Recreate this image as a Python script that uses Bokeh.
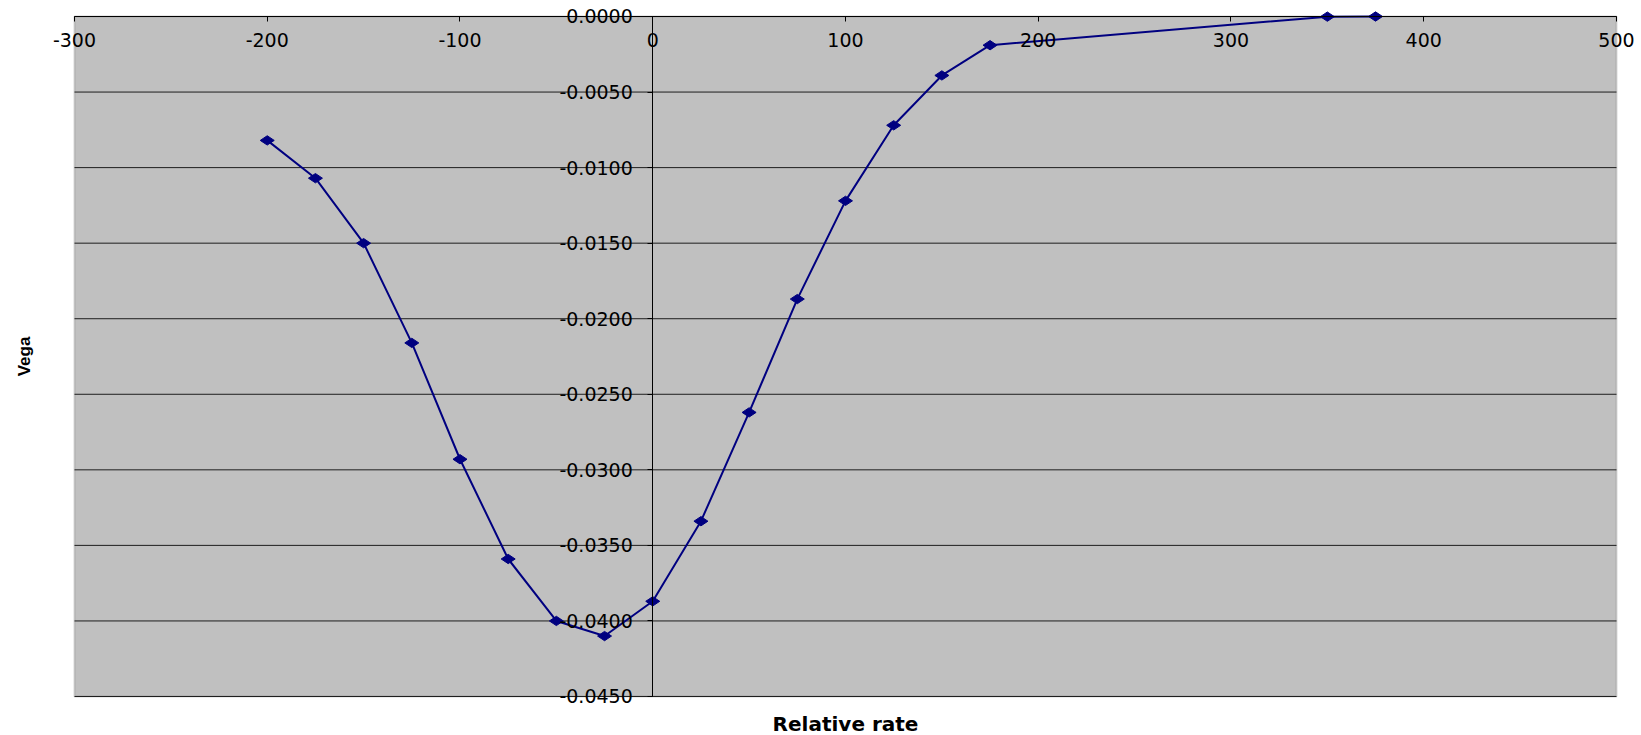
import math

from bokeh.plotting import figure
from bokeh.models import Range1d, FixedTicker, NumeralTickFormatter, LinearAxis, BoxAnnotation, Label
from bokeh.embed import file_html
from bokeh.resources import INLINE

# relative rate (x) and vega (y)
rates = [-200, -175, -150, -125, -100, -75, -50, -25, 0, 25, 50, 75, 100, 125, 150, 175, 350, 375]
vega = [-0.0082, -0.0107, -0.0150, -0.0216, -0.0293, -0.0359, -0.0400, -0.0410, -0.0387,
        -0.0334, -0.0262, -0.0187, -0.0122, -0.0072, -0.0039, -0.0019, -0.00001, 0.0]

x_ticks = [-300, -200, -100, 0, 100, 200, 300, 400, 500]
y_ticks = [0.0, -0.005, -0.010, -0.015, -0.020, -0.025, -0.030, -0.035, -0.040, -0.045]

TICK_FONT = "DejaVu Sans"
NAVY = "#000080"

# the frame fills the whole canvas; the grey plot area is drawn as a box inside it
p = figure(width=1641, height=735, output_backend="svg", toolbar_location=None,
           x_range=Range1d(-338.39, 512.97), y_range=Range1d(-0.047581, 0.0010588),
           x_axis_type=None, y_axis_type=None,
           min_border=0, min_border_left=0, min_border_right=0,
           min_border_top=0, min_border_bottom=0)
p.background_fill_color = "white"
p.border_fill_color = "white"
p.outline_line_color = None
p.xgrid.visible = False
p.ygrid.visible = False

p.add_layout(BoxAnnotation(left=x_ticks[0], right=x_ticks[-1], top=y_ticks[0], bottom=y_ticks[-1],
                           fill_color="#C0C0C0", fill_alpha=1.0,
                           line_color="#808080", line_width=2, level="underlay"))

# horizontal gridlines across the plot area only
p.segment(x0=[x_ticks[0]] * len(y_ticks), y0=y_ticks, x1=[x_ticks[-1]] * len(y_ticks), y1=y_ticks,
          line_color="black", line_width=1, line_alpha=0.85)

# x axis sits on the y=0 line (top of the plot area), labels hang inside
xaxis = LinearAxis(ticker=FixedTicker(ticks=x_ticks), fixed_location=0.0,
                   bounds=(x_ticks[0], x_ticks[-1]), formatter=NumeralTickFormatter(format="0"))
xaxis.major_tick_in = 0
xaxis.major_tick_out = 5
xaxis.minor_tick_line_color = None
xaxis.major_label_standoff = 12
xaxis.axis_line_color = "black"
xaxis.major_label_text_font = TICK_FONT
xaxis.major_label_text_font_size = "19px"
xaxis.major_label_text_color = "black"
p.add_layout(xaxis, "below")

# y axis sits on x=0
yaxis = LinearAxis(ticker=FixedTicker(ticks=y_ticks), fixed_location=0.0,
                   bounds=(y_ticks[-1], y_ticks[0]), formatter=NumeralTickFormatter(format="0.0000"))
yaxis.major_tick_in = 0
yaxis.major_tick_out = 5
yaxis.minor_tick_line_color = None
yaxis.major_label_standoff = 15
yaxis.axis_line_color = "black"
yaxis.major_label_text_font = TICK_FONT
yaxis.major_label_text_font_size = "19px"
yaxis.major_label_text_color = "black"
p.add_layout(yaxis, "left")

p.add_layout(Label(x=-325.94, y=-0.0225, text="Vega", angle=math.pi / 2,
                   text_align="center", text_baseline="middle", text_color="black",
                   text_font="Liberation Sans", text_font_size="17px", text_font_style="bold"))
p.add_layout(Label(x=100, y=-0.046852, text="Relative rate",
                   text_align="center", text_baseline="middle", text_color="black",
                   text_font="DejaVu Sans", text_font_size="20px", text_font_style="bold"))

p.line(rates, vega, line_color=NAVY, line_width=2)
p.scatter(rates, vega, marker="diamond", size=14, angle=math.pi / 2,
          fill_color=NAVY, line_color=NAVY)

open("out.html", "w").write(file_html(p, INLINE))
